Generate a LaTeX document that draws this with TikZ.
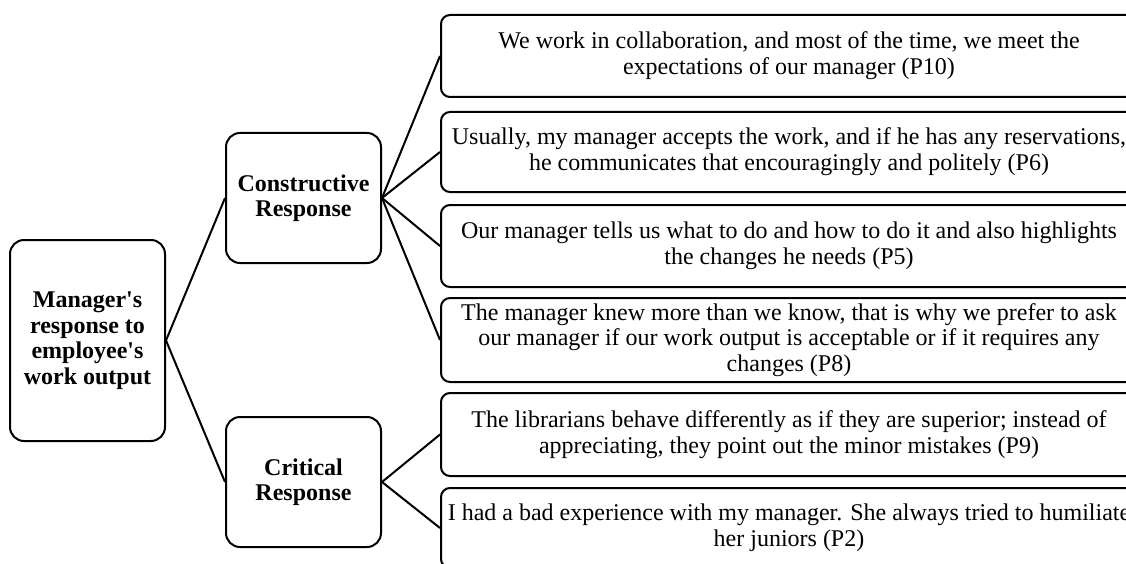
\documentclass[tikz,border=0pt]{standalone}
\usepackage{fontspec}
\setmainfont{Liberation Serif}
\begin{document}
\begin{tikzpicture}[x=1pt,y=-1pt,
    every node/.style={font=\fontsize{24}{25.8}\selectfont},
    box/.style={draw,line width=2pt,align=center,inner sep=0pt},
    headbox/.style={box,rounded corners=14pt,font=\fontsize{24}{25.5}\selectfont\bfseries},
    quotebox/.style={box,rounded corners=9pt,minimum width=696pt},
    link/.style={line width=2pt}]
  \useasboundingbox (0,0) rectangle (1126,564);
  \clip (0,0) rectangle (1126,564);

  % left column
  \node[headbox,minimum width=155pt,minimum height=201pt] (root) at (87.5,340.5)
    {Manager\textquotesingle s\\response to\\employee\textquotesingle s\\work output};
  \node[headbox,minimum width=155pt,minimum height=130pt] (cons) at (303.5,198)
    {Constructive\\Response};
  \node[headbox,minimum width=155pt,minimum height=130pt] (crit) at (303.5,482)
    {Critical\\Response};

  % quotes
  \node[quotebox,minimum height=82pt] (q10) at (789,56)
    {We work in collaboration, and most of the time, we meet the\\expectations of our manager (P10)};
  \node[quotebox,minimum height=80pt] (q6) at (789,152)
    {Usually, my manager accepts the work, and if he has any reservations,\\he communicates that encouragingly and politely (P6)};
  \node[quotebox,minimum height=82pt] (q5) at (789,246)
    {Our manager tells us what to do and how to do it and also highlights\\the changes he needs (P5)};
  \node[quotebox,minimum height=84pt] (q8) at (789,340)
    {The manager knew more than we know, that is why we prefer to ask\\our manager if our work output is acceptable or if it requires any\\changes (P8)};
  \node[quotebox,minimum height=83pt] (q9) at (789,434.5)
    {The librarians behave differently as if they are superior; instead of\\appreciating, they point out the minor mistakes (P9)};
  \node[quotebox,minimum height=80pt] (q2) at (789,528)
    {I had a bad experience with my manager. She always tried to humiliate\\her juniors (P2)};

  % connectors
  \draw[link] (root.east) -- (cons.west);
  \draw[link] (root.east) -- (crit.west);
  \foreach \q in {q10,q6,q5,q8}
    \draw[link] (cons.east) -- (\q.west);
  \foreach \q in {q9,q2}
    \draw[link] (crit.east) -- (\q.west);
\end{tikzpicture}
\end{document}
